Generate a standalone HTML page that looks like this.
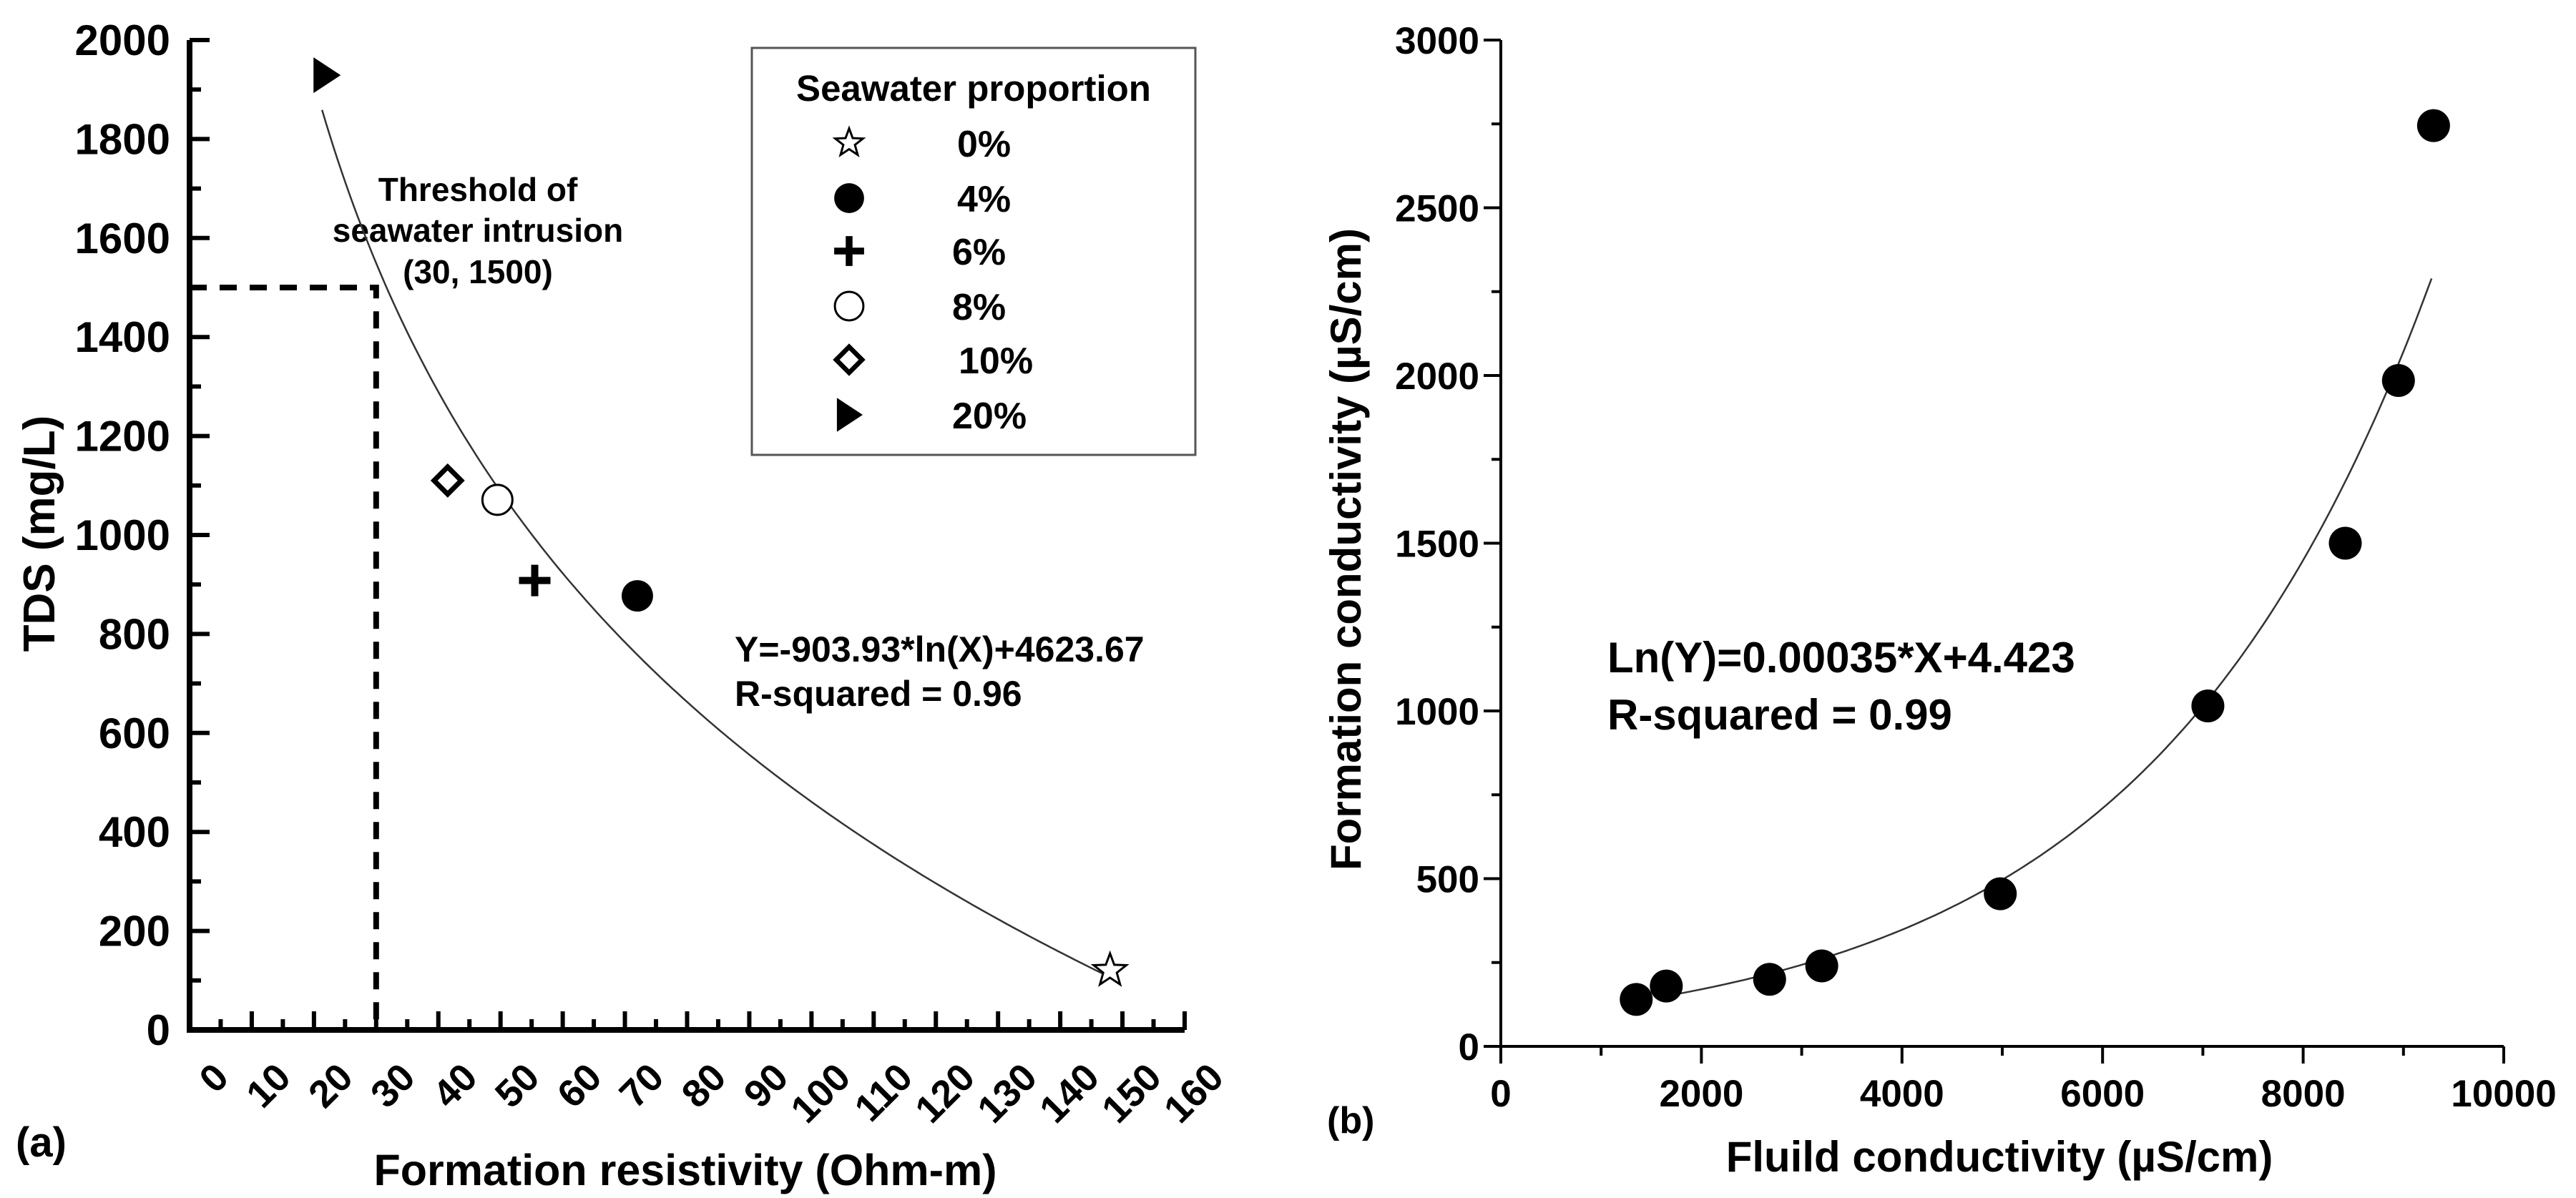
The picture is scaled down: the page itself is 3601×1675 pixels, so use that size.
<!DOCTYPE html>
<html><head><meta charset="utf-8">
<style>
html,body{margin:0;padding:0;background:#fff;}
svg{display:block;font-family:"Liberation Sans",Arial,sans-serif;font-weight:bold;}
</style></head>
<body>
<svg id="fig" width="3601" height="1675" viewBox="0 0 3601 1675" xmlns="http://www.w3.org/2000/svg">
<g id="chartA"></g>
<g id="chartB"></g>
</svg>
<script>
// ---- Chart (a) data ----
const aSeries = ["0%", "4%", "6%", "8%", "10%", "20%"];
const aResistivity = [148, 72, 55.5, 49.5, 41.5, 22];
const aTDS = [120, 877, 908, 1071, 1110, 1929];
const aMarkers = ["star", "dot", "plus", "ring", "diamond", "tri"];
const aXTicks = [0,10,20,30,40,50,60,70,80,90,100,110,120,130,140,150,160];
const aYTicks = [0,200,400,600,800,1000,1200,1400,1600,1800,2000];
const aFitCoef = [-903.93, 4623.67];
const aFitRange = [21.3, 148];
const aThreshold = [30, 1500];
// ---- Chart (b) data ----
const bFluid = [1350, 1650, 2680, 3200, 4980, 7050, 8420, 8950, 9300];
const bFormation = [140, 180, 200, 240, 455, 1015, 1500, 1985, 2745];
const bXTicks = [0,2000,4000,6000,8000,10000];
const bYTicks = [0,500,1000,1500,2000,2500,3000];
const bFitCoef = [0.000357, 4.423];
const bFitRange = [1700, 9280];

const NS = "http://www.w3.org/2000/svg";
function mk(parent, tag, attrs, text){
  const e = document.createElementNS(NS, tag);
  for (const k in attrs) e.setAttribute(k, attrs[k]);
  if (text !== undefined) e.textContent = text;
  parent.appendChild(e);
  return e;
}

// ===== Chart A =====
const A = document.getElementById('chartA');
const ax = v => 265 + (v - 0) / 160 * (1656 - 265);
const ay = v => 1440 - v / 2000 * (1440 - 56);

function marker(g, type, cx, cy, s){
  let el;
  if (type === 'dot') el = mk(g,'circle',{cx:cx,cy:cy,r:22*s,fill:'#000'});
  else if (type === 'ring') el = mk(g,'circle',{cx:cx,cy:cy,r:21*s,fill:'#fff',stroke:'#000','stroke-width':3});
  else if (type === 'plus') el = mk(g,'path',{d:`M${cx-22*s},${cy}H${cx+22*s}M${cx},${cy-22*s}V${cy+22*s}`,stroke:'#000','stroke-width':10*s,fill:'none'});
  else if (type === 'diamond') el = mk(g,'path',{d:`M${cx},${cy-19*s}L${cx+19*s},${cy}L${cx},${cy+19*s}L${cx-19*s},${cy}Z`,fill:'#fff',stroke:'#000','stroke-width':7*s});
  else if (type === 'tri') el = mk(g,'path',{d:`M${cx-18*s},${cy-25*s}L${cx+20*s},${cy}L${cx-18*s},${cy+25*s}Z`,fill:'#000'});
  else if (type === 'star'){
    let d='';
    for (let i=0;i<10;i++){
      const r = (i%2===0?24:10)*s, ang = -Math.PI/2 + i*Math.PI/5;
      d += (i?'L':'M') + (cx + r*Math.cos(ang)).toFixed(1) + ',' + (cy + r*Math.sin(ang)).toFixed(1);
    }
    el = mk(g,'path',{d:d+'Z',fill:'#fff',stroke:'#000','stroke-width':3});
  }
  return el;
}

// axes
let e = mk(A,'path',{d:`M${ax(0)},${ay(2000)}V${ay(0)}H${ax(160)}`,stroke:'#000','stroke-width':8,fill:'none'});
 
for (let v=0; v<=2000; v+=100){
  const len = v%200===0 ? 28 : 16;
  mk(A,'line',{x1:ax(0),x2:ax(0)+len,y1:ay(v),y2:ay(v),stroke:'#000','stroke-width':6});
}
for (let v=0; v<=160; v+=5){
  const len = v%10===0 ? 26 : 15;
  mk(A,'line',{x1:ax(v),x2:ax(v),y1:ay(0),y2:ay(0)-len,stroke:'#000','stroke-width':6});
}
aYTicks.forEach(v=>{
  const t = mk(A,'text',{x:238,y:ay(v)+21,'text-anchor':'end','font-size':60},String(v));
   
});
aXTicks.forEach(v=>{
  const tx = ax(v)+30, ty = 1482;
  const t = mk(A,'text',{x:tx,y:ty,'text-anchor':'end','font-size':54,transform:`rotate(-45 ${tx} ${ty})`,dy:'0.72em'},String(v));
   
});
e = mk(A,'text',{x:0,y:0,'text-anchor':'middle','font-size':62,transform:'translate(76 746) rotate(-90)'},'TDS (mg/L)');
 
e = mk(A,'text',{x:958,y:1657,'text-anchor':'middle','font-size':61},'Formation resistivity (Ohm-m)');
 
e = mk(A,'text',{x:22,y:1617,'font-size':58},'(a)');
 

// threshold dashed lines
e = mk(A,'path',{d:`M${ax(0)},${ay(aThreshold[1])}H${ax(aThreshold[0])}V${ay(0)}`,stroke:'#000','stroke-width':8,fill:'none','stroke-dasharray':'24,18'});
 
const thr = mk(A,'text',{'text-anchor':'middle','font-size':46});
 
mk(thr,'tspan',{x:668,y:281},'Threshold of');
mk(thr,'tspan',{x:668,y:338},'seawater intrusion');
mk(thr,'tspan',{x:668,y:396},'(30, 1500)');

// fit curve
let d='';
for (let i=0;i<=200;i++){
  const x = aFitRange[0] + (aFitRange[1]-aFitRange[0])*i/200;
  const y = aFitCoef[0]*Math.log(x) + aFitCoef[1];
  d += (i?'L':'M') + ax(x).toFixed(1) + ',' + ay(y).toFixed(1);
}
e = mk(A,'path',{d:d,stroke:'#333','stroke-width':2.5,fill:'none'});
 

// points
aResistivity.forEach((x,i)=>{
  const m = marker(A, aMarkers[i], ax(x), ay(aTDS[i]), 1);
  
  
});

// equation
const eqA = mk(A,'text',{'font-size':50});
 
mk(eqA,'tspan',{x:1027,y:925},'Y=-903.93*ln(X)+4623.67');
mk(eqA,'tspan',{x:1027,y:987},'R-squared = 0.96');

// legend
const L = mk(A,'g',{});
 
mk(L,'rect',{x:1051,y:67,width:620,height:569,fill:'#fff',stroke:'#555','stroke-width':3});
mk(L,'text',{x:1361,y:141,'text-anchor':'middle','font-size':51},'Seawater proportion');
const legY = [200,277,351,428,503,580];
const legTX = [1338,1338,1331,1331,1340,1331];
aSeries.forEach((s,i)=>{
  const g = mk(L,'g',{});
   
  marker(g, aMarkers[i], 1187, legY[i], i===0?0.85:0.95);
  mk(g,'text',{x:legTX[i],y:legY[i]+19,'font-size':52},s);
});

// ===== Chart B =====
const B = document.getElementById('chartB');
const bx = v => 2098 + v / 10000 * (3500 - 2098);
const by = v => 1463 - v / 3000 * (1463 - 56);
e = mk(B,'path',{d:`M${bx(0)},${by(3000)}V${by(0)}H${bx(10000)}`,stroke:'#000','stroke-width':4,fill:'none'});
 
for (let v=0; v<=3000; v+=250){
  const len = v%500===0 ? 24 : 13;
  mk(B,'line',{x1:bx(0)-len,x2:bx(0),y1:by(v),y2:by(v),stroke:'#000','stroke-width':4});
}
for (let v=0; v<=10000; v+=1000){
  const len = v%2000===0 ? 24 : 13;
  mk(B,'line',{x1:bx(v),x2:bx(v),y1:by(0),y2:by(0)+len,stroke:'#000','stroke-width':4});
}
bYTicks.forEach(v=>{
  const t = mk(B,'text',{x:2068,y:by(v)+19,'text-anchor':'end','font-size':53},String(v));
   
});
bXTicks.forEach(v=>{
  const t = mk(B,'text',{x:bx(v),y:1547,'text-anchor':'middle','font-size':53},String(v));
   
});
e = mk(B,'text',{x:0,y:0,'text-anchor':'middle','font-size':60,transform:'translate(1902 768) rotate(-90)'},'Formation conductivity (µS/cm)');
 
e = mk(B,'text',{x:2795,y:1638,'text-anchor':'middle','font-size':60},'Fluild conductivity (µS/cm)');
 
e = mk(B,'text',{x:1855,y:1584,'font-size':52},'(b)');
 

d='';
for (let i=0;i<=200;i++){
  const x = bFitRange[0] + (bFitRange[1]-bFitRange[0])*i/200;
  const y = Math.exp(bFitCoef[0]*x + bFitCoef[1]);
  d += (i?'L':'M') + bx(x).toFixed(1) + ',' + by(y).toFixed(1);
}
e = mk(B,'path',{d:d,stroke:'#333','stroke-width':2.5,fill:'none'});
 
bFluid.forEach((x,i)=>{
  const c = mk(B,'circle',{cx:bx(x),cy:by(bFormation[i]),r:23,fill:'#000'});
  
  
});
const eqB = mk(B,'text',{'font-size':60});
 
mk(eqB,'tspan',{x:2247,y:940},'Ln(Y)=0.00035*X+4.423');
mk(eqB,'tspan',{x:2247,y:1020},'R-squared = 0.99');
</script>
</body></html>
